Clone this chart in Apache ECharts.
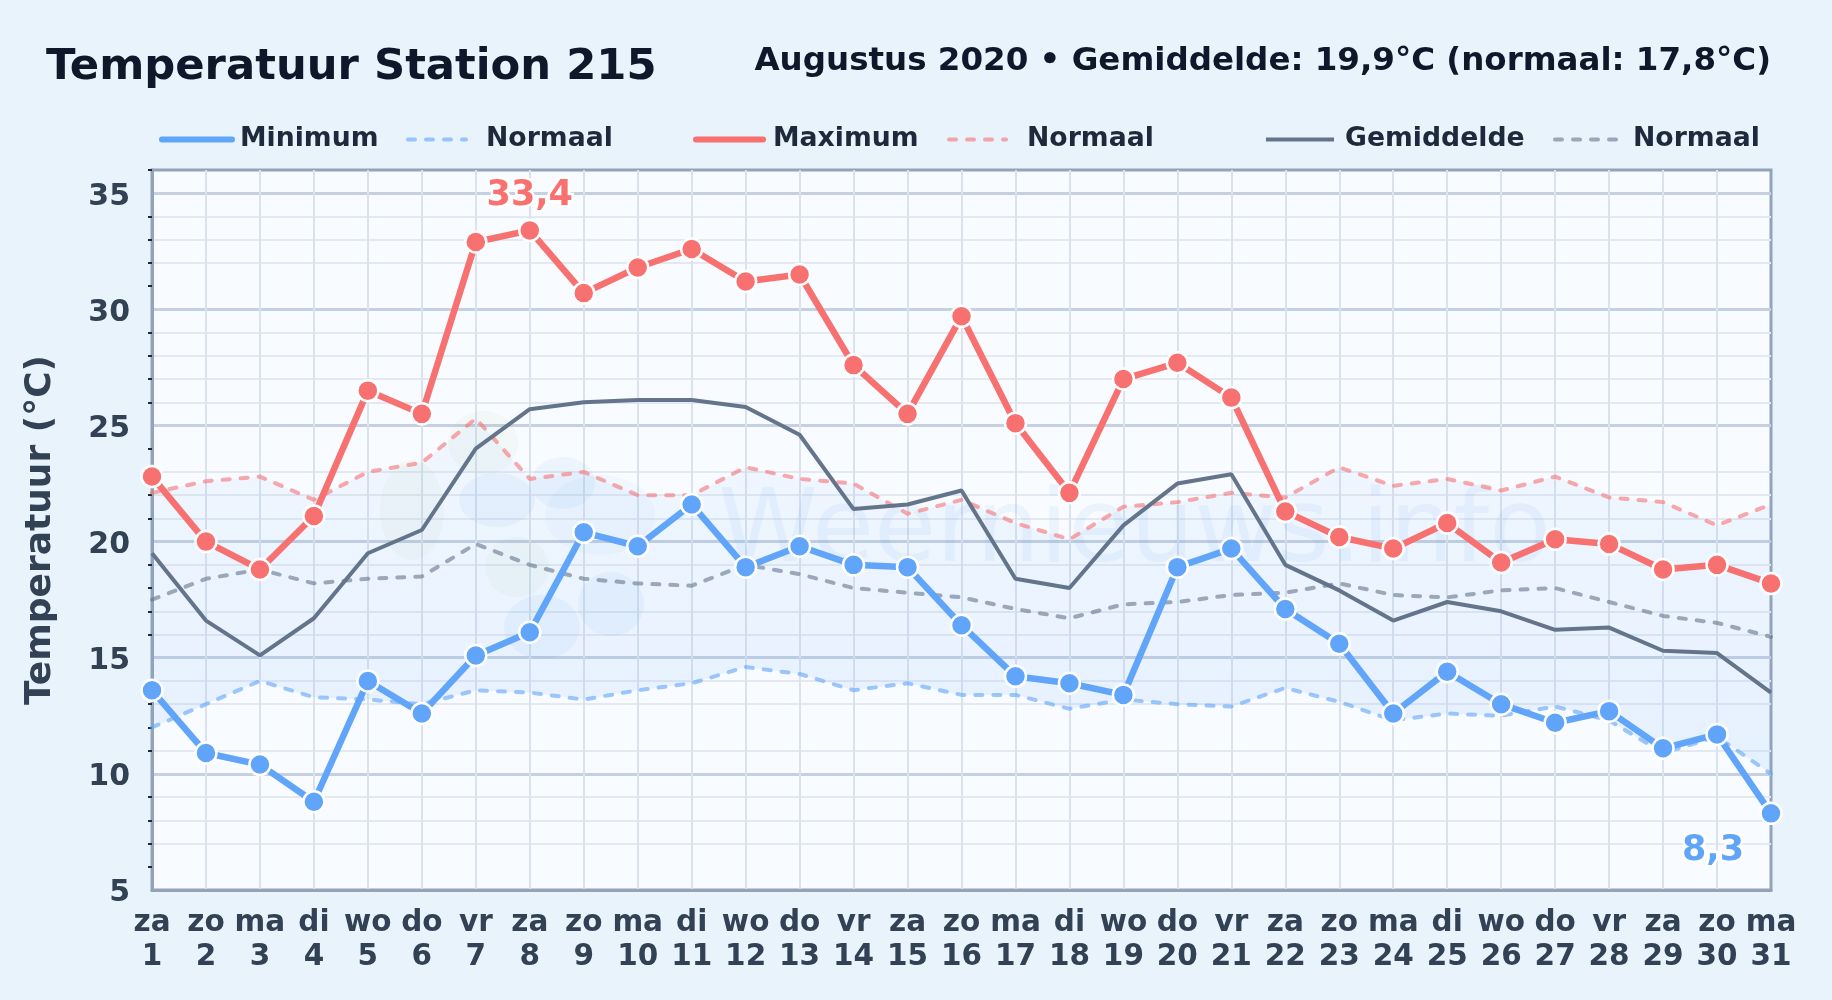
<!DOCTYPE html>
<html>
<head>
<meta charset="utf-8">
<style>html,body{margin:0;padding:0;background:#e9f3fc}#c{width:1832px;height:1000px}</style>
<script src="https://cdn.jsdelivr.net/npm/echarts@6/dist/echarts.min.js"></script>
</head>
<body>
<div id="c"></div>
<script>
const weekdays = ['za','zo','ma','di','wo','do','vr','za','zo','ma','di','wo','do','vr','za','zo','ma','di','wo','do','vr','za','zo','ma','di','wo','do','vr','za','zo','ma'];
const days = [1,2,3,4,5,6,7,8,9,10,11,12,13,14,15,16,17,18,19,20,21,22,23,24,25,26,27,28,29,30,31];
const minimum = [13.6,10.9,10.4,8.8,14.0,12.6,15.1,16.1,20.4,19.8,21.6,18.9,19.8,19.0,18.9,16.4,14.2,13.9,13.4,18.9,19.7,17.1,15.6,12.6,14.4,13.0,12.2,12.7,11.1,11.7,8.3];
const maximum = [22.8,20.0,18.8,21.1,26.5,25.5,32.9,33.4,30.7,31.8,32.6,31.2,31.5,27.6,25.5,29.7,25.1,22.1,27.0,27.7,26.2,21.3,20.2,19.7,20.8,19.1,20.1,19.9,18.8,19.0,18.2];
const gemiddelde = [19.5,16.6,15.1,16.7,19.5,20.5,24.0,25.7,26.0,26.1,26.1,25.8,24.6,21.4,21.6,22.2,18.4,18.0,20.7,22.5,22.9,19.0,17.9,16.6,17.4,17.0,16.2,16.3,15.3,15.2,13.5];
const normaalMin = [12.0,13.0,14.0,13.3,13.2,13.0,13.6,13.5,13.2,13.6,13.9,14.6,14.3,13.6,13.9,13.4,13.4,12.8,13.2,13.0,12.9,13.7,13.1,12.3,12.6,12.5,12.9,12.3,10.9,11.6,10.0];
const normaalMax = [22.1,22.6,22.8,21.8,23.0,23.4,25.3,22.7,23.0,22.0,22.0,23.2,22.7,22.5,21.2,21.8,20.8,20.1,21.5,21.7,22.1,21.9,23.2,22.4,22.7,22.2,22.8,21.9,21.7,20.7,21.6];
const normaalGem = [17.5,18.4,18.8,18.2,18.4,18.5,19.9,19.0,18.4,18.2,18.1,19.0,18.6,18.0,17.8,17.6,17.1,16.7,17.3,17.4,17.7,17.8,18.2,17.7,17.6,17.9,18.0,17.4,16.8,16.5,15.9];
const minorTickValues = [6,7,8,9,11,12,13,14,16,17,18,19,21,22,23,24,26,27,28,29,31,32,33,34,36];
const titleText = 'Temperatuur Station 215';
const subtitleText = 'Augustus 2020 • Gemiddelde: 19,9°C (normaal: 17,8°C)';
const yName = 'Temperatuur (°C)';
const watermark = 'Weernieuws.info';

const FONT = '"DejaVu Sans"';
const BLUE = '#60a5fa', RED = '#f87171', GREY = '#64748b';
const categories = weekdays.map((w, i) => w + '\n' + days[i]);
const bandHeight = normaalMax.map((v, i) => +(v - normaalMin[i]).toFixed(1));
const fmt = v => String(v).replace('.', ',');

function marked(arr, idx, color, labelCfg) {
  return arr.map((v, i) => i === idx ? {
    value: v,
    label: Object.assign({
      show: true, formatter: fmt(v), color: color, fontFamily: FONT, fontWeight: 'bold', fontSize: 35,
      textBorderColor: '#ffffff', textBorderWidth: 5
    }, labelCfg)
  } : v);
}
function mainLine(name, data, color) {
  return { name, type: 'line', data, clip: false, z: 5, symbol: 'circle', symbolSize: 21, showAllSymbol: true,
    lineStyle: { color, width: 6.5 }, itemStyle: { color, borderColor: '#ffffff', borderWidth: 2.5 },
    animation: false };
}
function normalLine(name, data, color) {
  return { name, type: 'line', data, clip: false, z: 3, symbol: 'none', lineStyle: { color, width: 4, type: [7, 11], cap: 'round', opacity: 0.6 }, itemStyle: { color }, animation: false };
}
function legendAt(name, left, iconW, gap, lineWidth, cap) {
  return { show: true, left, top: 126, orient: 'horizontal', selectedMode: false, itemWidth: iconW, itemHeight: 14, padding: 0,
    data: [name], itemStyle: { opacity: 0 }, lineStyle: { width: lineWidth, cap }, formatter: n => n.trim(),
    textStyle: { color: '#1e293b', fontFamily: FONT, fontWeight: 'bold', fontSize: 26.7, padding: [0, 0, 0, gap] } };
}
function blob(cx, cy, rx, ry, color) {
  return { type: 'circle', shape: { cx: 0, cy: 0, r: 1 }, x: cx, y: cy, scaleX: rx, scaleY: ry, silent: true, z: 1, style: { fill: color } };
}
const GB = 'rgba(150,195,120,0.06)', BB = 'rgba(80,150,225,0.07)', BL = 'rgba(80,150,225,0.04)';

const option = {
  backgroundColor: '#e9f3fc',
  animation: false,
  textStyle: { fontFamily: FONT },
  title: [
    { text: titleText, left: 46, top: 46.5, padding: 0, textStyle: { fontFamily: FONT, fontWeight: 'bold', fontSize: 43.3, color: '#0f172a' } },
    { text: subtitleText, right: 61, top: 45, padding: 0, textStyle: { fontFamily: FONT, fontWeight: 'bold', fontSize: 32.5, color: '#0f172a' } }
  ],
  legend: [
    legendAt('Minimum', 159, 70, 3, 6, 'round'),
    legendAt('Normaal', 406, 58, 15, 4, 'round'),
    legendAt('Maximum', 693, 67, 5, 6, 'round'),
    legendAt('Normaal ', 947, 57, 16, 4, 'round'),
    legendAt('Gemiddelde', 1264, 68, 6, 4, 'butt'),
    legendAt('Normaal  ', 1553, 65, 8, 4, 'round')
  ],
  grid: { left: 152, right: 61, top: 170, bottom: 110, show: true, backgroundColor: '#f8fbff', borderColor: '#94a3b8', borderWidth: 3 },
  xAxis: {
    type: 'category', data: categories, boundaryGap: false,
    axisLine: { lineStyle: { color: '#94a3b8', width: 3 } }, axisTick: { show: false },
    axisLabel: { interval: 0, margin: 16, color: '#334155', fontFamily: FONT, fontWeight: 'bold', fontSize: 29.5, lineHeight: 34 },
    splitLine: { show: true, interval: 0, showMinLine: false, showMaxLine: false, lineStyle: { color: '#dbe2ec', width: 2 } }
  },
  yAxis: [
    { type: 'value', min: 5, max: 36, interval: 5, name: yName, nameLocation: 'middle', nameGap: 93,
      nameTextStyle: { color: '#334155', fontFamily: FONT, fontWeight: 'bold', fontSize: 36 },
      axisLine: { show: true, lineStyle: { color: '#94a3b8', width: 3 } }, axisTick: { show: false },
      axisLabel: { margin: 22, verticalAlign: 'top', lineHeight: 7, color: '#334155', fontFamily: FONT, fontWeight: 'bold', fontSize: 30, showMaxLabel: false,
        formatter: v => v % 5 === 0 ? String(v) : '' },
      splitLine: { show: true, showMinLine: false, showMaxLine: false, lineStyle: { color: '#c5d0e0', width: 3 } } },
    { type: 'value', position: 'left', min: 5, max: 36, interval: 1,
      axisLine: { show: false }, axisLabel: { show: false },
      axisTick: { show: true, customValues: minorTickValues, length: 4, lineStyle: { color: '#1e293b', width: 2 } },
      splitLine: { show: true, showMaxLine: false, lineStyle: { color: ['transparent', '#e4e9f1', '#e4e9f1', '#e4e9f1', '#e4e9f1'], width: 2 } } }
  ],
  graphic: [
    blob(483, 443, 35, 32, GB), blob(412, 510, 32, 50, GB), blob(517, 567, 32, 30, GB),
    blob(497, 500, 38, 27, BB), blob(563, 483, 32, 26, BB), blob(611, 604, 33, 32, BB), blob(542, 627, 38, 32, BB),
    blob(600, 515, 55, 40, BL),
    { type: 'text', silent: true, z: 1, x: 718, y: 484,
      style: { text: watermark, fontFamily: FONT, fontSize: 101, fill: 'rgba(80,150,225,0.075)' } }
  ],
  series: [
    { name: 'bandBase', type: 'line', stack: 'band', data: normaalMin, symbol: 'none', lineStyle: { width: 0, opacity: 0 }, z: 2, silent: true, legendHoverLink: false },
    { name: 'band', type: 'line', stack: 'band', data: bandHeight, symbol: 'none', lineStyle: { width: 0, opacity: 0 }, z: 2, silent: true,
      areaStyle: { opacity: 1, color: { type: 'linear', x: 0, y: 0, x2: 0, y2: 1, colorStops: [{ offset: 0, color: 'rgba(96,165,250,0.05)' }, { offset: 1, color: 'rgba(96,165,250,0.12)' }] } } },
    normalLine('Normaal', normaalMin, BLUE),
    normalLine('Normaal ', normaalMax, RED),
    normalLine('Normaal  ', normaalGem, GREY),
    { name: 'Gemiddelde', type: 'line', data: gemiddelde, clip: false, z: 4, symbol: 'none', lineStyle: { color: GREY, width: 4 }, itemStyle: { color: GREY } },
    mainLine('Maximum', marked(maximum, maximum.indexOf(Math.max(...maximum)), RED, { position: 'top', distance: 5.5 }), RED),
    mainLine('Minimum', marked(minimum, minimum.indexOf(Math.min(...minimum)), BLUE, { position: 'bottom', distance: 8, offset: [-58, 0] }), BLUE)
  ]
};
const chart = echarts.init(document.getElementById('c'), null, { renderer: 'canvas' });
chart.setOption(option);
</script>
</body>
</html>
